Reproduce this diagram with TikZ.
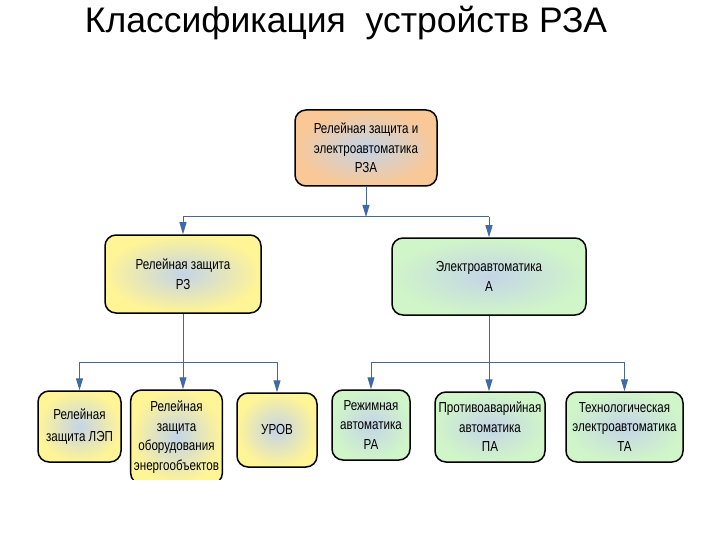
\documentclass[tikz,border=0pt]{standalone}
\usepackage{fontspec}
\setmainfont{Liberation Sans}
\newfontfamily\boxfont[FakeStretch=0.8]{Liberation Sans}
\usepackage{xcolor}
\usepackage{tikz}
\usetikzlibrary{arrows.meta,positioning,calc}
\definecolor{lineBlue}{RGB}{70,104,150}
\definecolor{tipBlue}{RGB}{58,108,180}
\definecolor{centerBlue}{RGB}{196,212,232}
\definecolor{rzaOrange}{RGB}{250,200,150}
\definecolor{rzYellow}{RGB}{255,244,150}
\definecolor{aGreen}{RGB}{208,245,200}
\tikzset{
  rzabox/.style={
    rectangle, rounded corners=11pt, draw=black, line width=1.5pt,
    align=center, font=\boxfont\fontsize{14.5}{19.5}\selectfont,
    shading=radial, inner color=centerBlue
  },
  linkline/.style={line width=1pt, color=lineBlue},
  linkArrow/.style={linkline, -{Triangle[length=12pt,width=7pt,fill=tipBlue]}}
}
\begin{document}
\begin{tikzpicture}[x=1pt, y=-1pt,
          top/.style={rzabox, outer color=rzaOrange},
          prot/.style={rzabox, outer color=rzYellow},
          auto/.style={rzabox, outer color=aGreen}]
        \useasboundingbox (0,0) rectangle (720,540);
        \node[anchor=base, font=\fontsize{35.5}{40}\selectfont] (title) at (346,33)
             {Классификация\ \ устройств РЗА};
        % upper levels
        \node[top,  minimum width=142pt, minimum height=76pt] (rza) at (366,148)
             {Релейная защита и\\электроавтоматика\\РЗА};
        \node[prot, minimum width=156pt, minimum height=78pt] (rz)  at (183,274)
             {Релейная защита\\РЗ};
        \node[auto, minimum width=194pt, minimum height=77pt] (a)   at (489,276.5)
             {Электроавтоматика\\А};
        % lower level
        \node[prot, minimum width=83pt, minimum height=71pt, font=\boxfont\fontsize{14.5}{21.5}\selectfont]
             (lep)  at (79.5,426.5) {Релейная\\защита ЛЭП};
        \begin{scope}
          \clip (0,0) rectangle (720,479.5);
          \node[prot, minimum width=91pt, minimum height=94pt] (obor) at (176.5,437)
               {Релейная\\защита\\оборудования\\энергообъектов};
        \end{scope}
        \node[prot, minimum width=80pt,  minimum height=74pt] (urov) at (277,430)   {УРОВ};
        \node[auto, minimum width=78pt,  minimum height=70pt] (ra)   at (371,425)
             {Режимная\\автоматика\\РА};
        \node[auto, minimum width=110pt, minimum height=70pt] (pa)   at (490,427)
             {Противоаварийная\\автоматика\\ПА};
        \node[auto, minimum width=117pt, minimum height=70pt] (ta)   at (624.5,427)
             {Технологическая\\электроавтоматика\\ТА};
        % connectors
        \coordinate (j1) at (366,217);
        \coordinate (j2) at (183,362);
        \coordinate (j3) at (489,362);
        \draw[linkArrow] (rza) -- (j1);
        \draw[linkline]  (j1 -| rz) -- (j1 -| a);
        \draw[linkArrow] (j1 -| rz) -- (rz.north);
        \draw[linkArrow] (j1 -| a)  -- (a.north);
        \draw[linkArrow] (rz) -- (rz |- obor.north);
        \draw[linkline]  (j2 -| lep) -- (j2 -| urov);
        \draw[linkArrow] (j2 -| lep)  -- (lep.north);
        \draw[linkArrow] (j2 -| urov) -- (urov.north);
        \draw[linkArrow] (a) -- (a |- pa.north);
        \draw[linkline]  (j3 -| ra) -- (j3 -| ta);
        \draw[linkArrow] (j3 -| ra) -- (ra.north);
        \draw[linkArrow] (j3 -| ta) -- (ta.north);
      \end{tikzpicture}
\end{document}
